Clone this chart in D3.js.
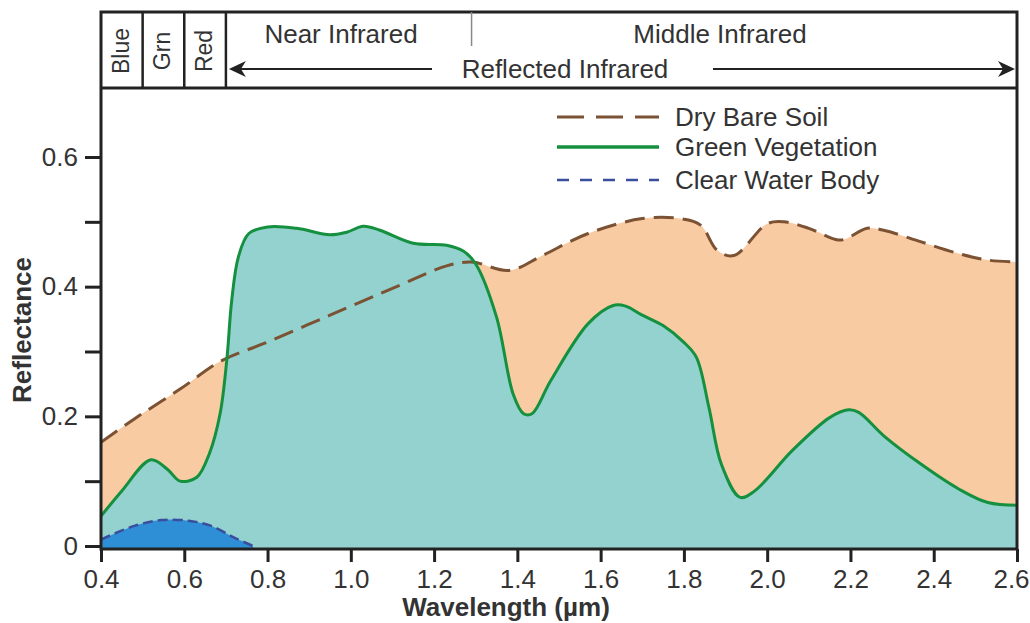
<!DOCTYPE html>
<html>
<head>
<meta charset="utf-8">
<script src="https://cdn.jsdelivr.net/npm/d3@7"></script>
<style>
  body { margin: 0; background: #fff; }
  text { font-family: "Liberation Sans", Arial, sans-serif; fill: #333; }
</style>
</head>
<body>
<svg id="chart" width="1030" height="623"></svg>
<script>
// values
var soilWl   = [0.40, 0.48, 0.59, 0.69, 0.79, 0.95, 1.11, 1.23, 1.29, 1.38, 1.46, 1.57, 1.70, 1.79, 1.84, 1.88, 1.92, 2.00, 2.04, 2.10, 2.17, 2.19, 2.24, 2.28, 2.37, 2.46, 2.53, 2.60];
var soilRefl = [0.160, 0.196, 0.242, 0.286, 0.312, 0.356, 0.400, 0.432, 0.438, 0.425, 0.448, 0.482, 0.505, 0.505, 0.495, 0.456, 0.448, 0.497, 0.500, 0.490, 0.472, 0.474, 0.490, 0.487, 0.469, 0.451, 0.441, 0.438];

var vegWl   = [0.40, 0.45, 0.52, 0.56, 0.59, 0.63, 0.66, 0.686, 0.702, 0.714, 0.73, 0.755, 0.80, 0.87, 0.95, 0.99, 1.03, 1.07, 1.15, 1.23, 1.27, 1.30, 1.35, 1.39, 1.415, 1.435, 1.48, 1.57, 1.63, 1.66, 1.70, 1.75, 1.80, 1.83, 1.86, 1.89, 1.935, 1.97, 2.06, 2.15, 2.195, 2.22, 2.28, 2.37, 2.46, 2.53, 2.60];
var vegRefl = [0.046, 0.085, 0.133, 0.118, 0.100, 0.106, 0.142, 0.204, 0.286, 0.379, 0.446, 0.482, 0.492, 0.490, 0.480, 0.484, 0.493, 0.487, 0.467, 0.464, 0.455, 0.435, 0.353, 0.234, 0.204, 0.204, 0.255, 0.343, 0.371, 0.370, 0.356, 0.340, 0.314, 0.291, 0.214, 0.126, 0.075, 0.085, 0.147, 0.198, 0.210, 0.206, 0.170, 0.126, 0.088, 0.067, 0.063];

var waterWl   = [0.40, 0.48, 0.545, 0.61, 0.665, 0.72, 0.765];
var waterRefl = [0.010, 0.031, 0.040, 0.039, 0.031, 0.013, 0.0];

var xTicks = [0.4, 0.6, 0.8, 1.0, 1.2, 1.4, 1.6, 1.8, 2.0, 2.2, 2.4, 2.6];
var yTicks = [0, 0.1, 0.2, 0.3, 0.4, 0.5, 0.6];
var yTickLabels = ["0", "", "0.2", "", "0.4", "", "0.6"];

var bandBreaks = [0.5, 0.6, 0.7];
var bandNames = ["Blue", "Grn", "Red"];
var bandCenters = [0.45, 0.55, 0.65];
var irBreak = 1.29;

var legendNames = ["Dry Bare Soil", "Green Vegetation", "Clear Water Body"];

var svg = d3.select("#chart");
var left = 101, right = 1017, bandTop = 12, plotTop = 88, bottom = 549;

var x = d3.scaleLinear().domain([0.4, 2.6]).range([left, right]);
var y = d3.scaleLinear().domain([0, 0.6]).range([546, 157]);

function pts(wl, r) {
    return wl.map(function (d, i) { return [d, r[i]]; });
}
var soil = pts(soilWl, soilRefl),
    veg = pts(vegWl, vegRefl),
    water = pts(waterWl, waterRefl);

var curve = d3.curveCatmullRom.alpha(0.5);

var area = d3.area()
    .x(function (d) { return x(d[0]); })
    .y0(bottom)
    .y1(function (d) { return y(d[1]); })
    .curve(curve);

var line = d3.line()
    .x(function (d) { return x(d[0]); })
    .y(function (d) { return y(d[1]); })
    .curve(curve);

svg.append("defs").append("clipPath").attr("id", "plotclip")
    .append("rect").attr("x", left).attr("y", plotTop)
    .attr("width", right - left).attr("height", bottom - plotTop);

var plot = svg.append("g").attr("clip-path", "url(#plotclip)");

plot.append("path").datum(soil).attr("d", area).attr("fill", "#f8cba2");
plot.append("path").datum(veg).attr("d", area).attr("fill", "#93d2cf");
plot.append("path").datum(water).attr("d", area).attr("fill", "#2e8fd6");

plot.append("path").datum(soil).attr("d", line)
    .attr("fill", "none").attr("stroke", "#7b5233")
    .attr("stroke-width", 3).attr("stroke-dasharray", "20,9");
plot.append("path").datum(water).attr("d", line)
    .attr("fill", "none").attr("stroke", "#3a4e9e")
    .attr("stroke-width", 2.5).attr("stroke-dasharray", "10,5");
plot.append("path").datum(veg).attr("d", line)
    .attr("fill", "none").attr("stroke", "#14903f")
    .attr("stroke-width", 3);

// axes
var xAxis = svg.append("g")
    .attr("transform", "translate(0," + bottom + ")")
    .call(d3.axisBottom(x).tickValues(xTicks).tickFormat(d3.format(".1f"))
        .tickSize(13).tickPadding(8));
var yAxis = svg.append("g")
    .attr("transform", "translate(" + left + ",0)")
    .call(d3.axisLeft(y).tickValues(yTicks)
        .tickFormat(function (d, i) { return yTickLabels[i]; })
        .tickSize(16).tickPadding(7));

[xAxis, yAxis].forEach(function (a) {
    a.select(".domain").remove();
    a.selectAll(".tick line").attr("stroke", "#222").attr("stroke-width", 3);
    a.selectAll(".tick text").style("font-size", "26px").attr("fill", "#333");
});
// last x label sits against the page edge
xAxis.selectAll(".tick text").filter(function (d) { return d === 2.6; }).attr("dx", "-6");

// frame: plot box and wavelength band box
svg.append("rect")
    .attr("x", left).attr("y", bandTop)
    .attr("width", right - left).attr("height", bottom - bandTop)
    .attr("fill", "none").attr("stroke", "#222").attr("stroke-width", 3);
svg.append("line")
    .attr("x1", left).attr("x2", right).attr("y1", plotTop).attr("y2", plotTop)
    .attr("stroke", "#222").attr("stroke-width", 3);

svg.selectAll(".bandline").data(bandBreaks).enter().append("line")
    .attr("x1", function (d) { return x(d); })
    .attr("x2", function (d) { return x(d); })
    .attr("y1", bandTop).attr("y2", plotTop)
    .attr("stroke", "#222").attr("stroke-width", 2.5);

svg.selectAll(".bandname").data(bandNames).enter().append("text")
    .attr("transform", function (d, i) {
        return "translate(" + (x(bandCenters[i]) + 7) + ",51) rotate(-90)";
    })
    .attr("text-anchor", "middle")
    .style("font-size", "23px")
    .text(function (d) { return d; });

svg.append("line")
    .attr("x1", x(irBreak)).attr("x2", x(irBreak))
    .attr("y1", bandTop).attr("y2", 46)
    .attr("stroke", "#888").attr("stroke-width", 1.5);

svg.append("text").attr("x", 341).attr("y", 43)
    .attr("text-anchor", "middle").style("font-size", "26px")
    .text("Near Infrared");
svg.append("text").attr("x", 720).attr("y", 43)
    .attr("text-anchor", "middle").style("font-size", "26px")
    .text("Middle Infrared");
svg.append("text").attr("x", 565).attr("y", 78)
    .attr("text-anchor", "middle").style("font-size", "26px")
    .text("Reflected Infrared");

// arrow
var ay = 69;
svg.append("line").attr("x1", x(0.7) + 6).attr("x2", 432)
    .attr("y1", ay).attr("y2", ay).attr("stroke", "#222").attr("stroke-width", 2);
svg.append("line").attr("x1", 713).attr("x2", right - 6)
    .attr("y1", ay).attr("y2", ay).attr("stroke", "#222").attr("stroke-width", 2);
var lt = x(0.7) + 3, rt = right - 2;
svg.append("path")
    .attr("d", "M" + lt + "," + ay + "L" + (lt + 17) + "," + (ay - 8) + "L" + (lt + 12) + "," + ay +
        "L" + (lt + 17) + "," + (ay + 8) + "Z")
    .attr("fill", "#222");
svg.append("path")
    .attr("d", "M" + rt + "," + ay + "L" + (rt - 17) + "," + (ay - 8) + "L" + (rt - 12) + "," + ay +
        "L" + (rt - 17) + "," + (ay + 8) + "Z")
    .attr("fill", "#222");

// axis titles
svg.append("text").attr("x", 506).attr("y", 616)
    .attr("text-anchor", "middle").style("font-size", "26px").style("font-weight", "bold")
    .text("Wavelength (\u00b5m)");
svg.append("text")
    .attr("transform", "translate(31,330) rotate(-90)")
    .attr("text-anchor", "middle").style("font-size", "26px").style("font-weight", "bold")
    .text("Reflectance");

// legend
var legendStyles = [
    { stroke: "#7b5233", dash: "27,12", width: 3 },
    { stroke: "#14903f", dash: null, width: 3.5 },
    { stroke: "#3a4e9e", dash: "12,11", width: 2.5 }
];
var legendY = [117, 147, 180];
var lg = svg.selectAll(".legend").data(legendNames).enter().append("g");
lg.append("line")
    .attr("x1", 557).attr("x2", 659)
    .attr("y1", function (d, i) { return legendY[i]; })
    .attr("y2", function (d, i) { return legendY[i]; })
    .attr("stroke", function (d, i) { return legendStyles[i].stroke; })
    .attr("stroke-width", function (d, i) { return legendStyles[i].width; })
    .attr("stroke-dasharray", function (d, i) { return legendStyles[i].dash; });
lg.append("text")
    .attr("x", 675)
    .attr("y", function (d, i) { return legendY[i] + 9; })
    .style("font-size", "26px")
    .text(function (d) { return d; });
</script>
</body>
</html>
